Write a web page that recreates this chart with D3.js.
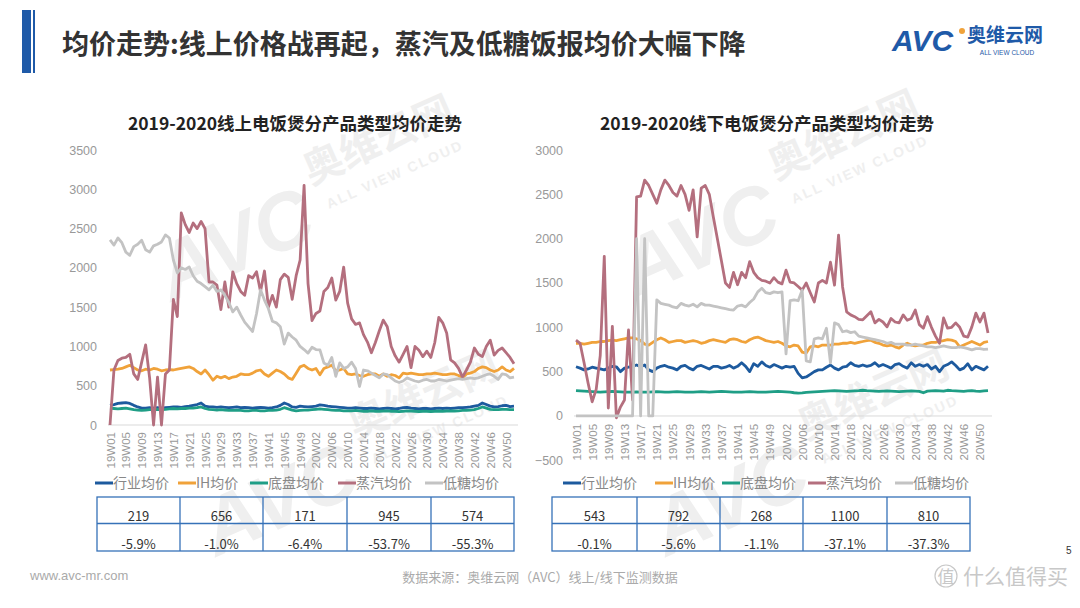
<!DOCTYPE html>
<html>
<head>
<meta charset="utf-8">
<script src="https://cdnjs.cloudflare.com/ajax/libs/d3/7.8.5/d3.min.js"></script>
<style>
  body { margin: 0; background: #fff; }
  svg { display: block; font-family: 'Noto Sans CJK SC', 'Noto Sans', sans-serif; }
</style>
</head>
<body>
<script>
// week labels 19W01..19W51, 20W01..20W52
var weeks = [];
for (var a = 1; a <= 51; a++) weeks.push('19W' + (a < 10 ? '0' : '') + a);
for (var b = 1; b <= 52; b++) weeks.push('20W' + (b < 10 ? '0' : '') + b);

var seriesNames = ['行业均价', 'IH均价', '底盘均价', '蒸汽均价', '低糖均价'];
var seriesColors = ['#1d5a9e', '#f0a23a', '#1f9e86', '#b46f7e', '#c3c3c3'];

// online (线上)
var onIndustry = [250,260,275,280,285,275,250,230,215,215,
  220,215,220,215,220,225,230,230,225,235,
  240,250,260,280,240,230,230,225,230,225,
  220,225,230,220,225,220,215,220,225,220,
  215,220,230,250,280,260,230,225,240,235,
  230,235,240,255,250,240,235,230,225,220,
  215,215,220,215,210,210,215,210,205,210,
  215,210,205,210,220,225,215,210,205,210,
  210,205,210,215,210,215,210,215,220,220,
  225,230,240,250,280,260,240,230,235,245,
  250,235,240];
var onIH = [700,705,710,720,740,760,730,700,690,710,
  700,720,710,690,700,705,700,710,720,730,
  740,720,680,650,700,640,570,620,600,620,
  590,610,620,650,640,640,660,690,700,650,
  620,660,700,680,650,600,580,660,740,760,
  720,700,720,640,720,740,760,690,700,720,
  650,640,650,630,620,640,650,650,620,650,
  620,640,630,600,660,650,660,650,640,640,
  650,650,660,650,640,640,650,650,630,600,
  650,660,680,720,740,730,700,680,700,740,
  700,680,720];
var onFloor = [215,210,205,210,215,205,195,190,185,190,
  195,195,200,195,200,205,210,205,210,210,
  215,215,220,230,210,200,195,190,195,190,
  185,185,190,185,180,180,185,185,180,180,
  185,185,190,200,220,205,190,180,185,190,
  190,195,200,205,200,195,190,185,185,180,
  180,180,185,180,175,175,180,175,175,178,
  180,175,175,170,175,180,178,175,172,175,
  175,172,175,178,175,178,180,178,180,185,
  185,190,195,210,230,215,200,195,195,200,
  198,195,195];
var onSteam = [0,700,820,850,860,900,650,580,800,1020,
  600,0,610,0,650,700,1600,1380,2700,2550,
  2450,2570,2500,2590,2500,1820,1820,1780,1470,1820,
  1500,1950,1800,1700,1650,1900,1870,1950,1700,1960,
  1500,1650,1500,1850,1920,1880,1600,1900,2100,3050,
  1800,1330,1420,1450,1700,1750,1870,1590,1700,2010,
  1550,1350,1280,1300,1150,1055,920,1050,1200,1335,
  1250,1000,880,800,900,1000,730,1000,950,870,
  940,860,1050,1370,1300,1170,830,790,720,610,
  700,800,980,900,870,1000,1080,890,950,980,
  920,860,780];
var onLowSugar = [2355,2290,2380,2320,2200,2160,2270,2300,2350,2230,
  2200,2280,2300,2330,2420,2380,2100,1935,2000,1980,
  2010,1900,1830,1800,1760,1720,1780,1700,1720,1650,
  1560,1440,1500,1400,1310,1250,1190,1420,1720,1590,
  1480,1320,1300,1250,1030,1170,1120,1080,1000,960,
  915,990,960,955,790,760,860,620,790,720,
  740,800,720,490,700,690,660,630,600,650,
  640,600,560,540,560,600,580,560,550,570,
  580,560,560,580,570,560,570,580,590,580,
  590,600,590,600,620,640,650,620,580,650,
  640,600,610];

// offline (线下)
var offIndustry = [555,540,520,530,550,540,530,520,540,560,
  555,500,540,550,560,575,555,575,520,500,
  540,560,570,550,540,520,560,570,540,520,
  560,570,550,530,560,560,540,550,570,540,
  560,600,560,500,590,560,610,570,550,580,
  560,540,560,550,560,480,430,440,470,500,
  520,520,550,575,540,520,550,560,600,570,
  560,575,560,570,600,560,580,560,540,580,
  590,560,540,600,560,580,560,580,530,560,
  500,560,580,610,570,520,540,590,520,560,
  540,520,560];
var offIH = [820,820,810,820,830,830,840,840,850,855,
  850,860,870,880,880,870,850,810,800,830,
  860,880,860,830,840,850,850,830,840,850,
  840,820,830,850,860,850,840,830,860,870,
  860,840,830,860,880,890,870,850,840,830,
  840,820,790,780,800,790,720,710,780,790,
  780,800,800,800,810,810,820,820,830,820,
  830,840,850,855,830,820,800,790,800,780,
  765,800,820,800,790,800,800,820,830,830,
  840,850,860,855,840,780,800,820,840,820,
  800,830,840];
var offFloor = [285,282,280,278,275,272,270,272,275,278,
  275,272,270,268,270,272,270,268,270,272,
  275,272,270,268,272,275,272,270,268,270,
  272,275,272,270,272,275,278,275,272,270,
  268,270,272,275,272,270,268,270,272,275,
  278,275,272,268,262,258,260,265,270,272,
  275,278,280,282,285,282,280,278,280,282,
  285,290,285,282,280,278,280,282,280,278,
  275,278,280,282,280,278,262,280,282,285,
  282,280,290,285,282,280,278,282,285,280,
  278,282,285];
var offSteam = [855,820,600,370,160,300,680,1800,90,1010,
  -20,100,180,970,180,2470,2480,2660,2600,2500,
  2400,2550,2660,2600,2520,2480,2600,2500,2320,2550,
  2020,2570,2600,2500,2245,2000,1750,1500,1450,1620,
  1480,1620,1560,1740,1620,1560,1530,1520,1500,1560,
  1510,1490,1645,1510,1500,1460,1420,1500,1390,1285,
  1500,1530,1500,1735,1475,2040,1455,1175,1140,1120,
  1090,1085,1130,1175,1050,1090,1060,1005,1100,1060,
  1050,1140,1080,1100,1195,1030,990,1120,1000,900,
  820,1105,990,1000,1050,1000,900,890,1005,1160,
  1060,1160,935];
var offLowSugar = [0,0,0,0,0,0,0,0,0,0,
  0,0,0,0,0,2000,0,2000,0,0,
  1310,1270,1260,1250,1230,1220,1270,1250,1240,1260,
  1230,1270,1250,1250,1240,1230,1220,1210,1200,1195,
  1240,1250,1230,1280,1320,1400,1440,1390,1380,1400,
  1390,1400,700,1300,1310,1300,1420,620,610,870,
  880,870,990,600,1050,1030,950,960,940,950,
  900,890,880,870,860,850,840,820,830,810,
  810,810,800,800,810,800,790,780,780,770,
  780,790,780,770,770,780,770,760,745,760,
  760,750,755];

// tick labels + table values
var onYTicks = [0, 500, 1000, 1500, 2000, 2500, 3000, 3500];
var offYTicks = [-500, 0, 500, 1000, 1500, 2000, 2500, 3000];
var onLatest = ['219', '656', '171', '945', '574'];
var onChange = ['-5.9%', '-1.0%', '-6.4%', '-53.7%', '-55.3%'];
var offLatest = ['543', '792', '268', '1100', '810'];
var offChange = ['-0.1%', '-5.6%', '-1.1%', '-37.1%', '-37.3%'];

var W = 1080, H = 608;
var svg = d3.select('body').append('svg').attr('width', W).attr('height', H);

// watermark tiles
function watermark(cx, cy) {
  var g = svg.append('g')
    .attr('transform', 'translate(' + cx + ',' + cy + ') rotate(-24)')
    .style('fill', '#efefef');
  g.append('text').text('AVC')
    .attr('x', -150).attr('y', 45)
    .style('font-family', 'Liberation Sans')
    .style('font-weight', 'bold').style('font-style', 'italic')
    .style('font-size', '80px');
  g.append('text').text('奥维云网')
    .attr('x', 25).attr('y', -5)
    .style('font-weight', 'bold').style('font-size', '40px');
  g.append('text').text('ALL VIEW CLOUD')
    .attr('x', 32).attr('y', 24)
    .style('font-family', 'Liberation Sans')
    .style('font-weight', 'bold').style('font-size', '14px')
    .style('letter-spacing', '2px');
}
watermark(290, 200);
watermark(755, 195);
watermark(335, 455);
watermark(785, 455);

// header
svg.append('rect').attr('x', 22).attr('y', 10).attr('width', 9).attr('height', 63).attr('fill', '#1f5aa8');
svg.append('rect').attr('x', 33).attr('y', 10).attr('width', 2).attr('height', 63).attr('fill', '#1f5aa8');
svg.append('text').text('均价走势:线上价格战再起，蒸汽及低糖饭报均价大幅下降')
  .attr('x', 62).attr('y', 54)
  .style('font-size', '27px').style('font-weight', 'bold').style('fill', '#333');

// logo
var logo = svg.append('g');
logo.append('text').text('AVC').attr('x', 892).attr('y', 51)
  .style('font-family', 'Liberation Sans').style('font-weight', 'bold')
  .style('font-style', 'italic').style('font-size', '30px').style('fill', '#1f5aa8');
logo.append('circle').attr('cx', 962).attr('cy', 31).attr('r', 3).attr('fill', '#f0a23a');
logo.append('text').text('奥维云网').attr('x', 967).attr('y', 42)
  .style('font-weight', 'bold').style('font-size', '19px').style('fill', '#1f5aa8');
logo.append('text').text('ALL VIEW CLOUD').attr('x', 1007).attr('y', 55)
  .style('font-family', 'Liberation Sans').style('font-size', '6.5px')
  .style('text-anchor', 'middle').style('fill', '#1f5aa8');

function drawChart(cfg) {
  var x = d3.scalePoint().domain(weeks).range([cfg.x0, cfg.x1]);
  var y = d3.scaleLinear().domain(cfg.yDomain).range([cfg.yBottom, cfg.yTop]);
  var g = svg.append('g');

  g.append('text').text(cfg.title)
    .attr('x', cfg.titleX).attr('y', 130)
    .style('font-size', '17.5px').style('font-weight', 'bold')
    .style('text-anchor', 'middle').style('fill', '#222');

  // y axis
  var ya = g.append('g')
    .attr('transform', 'translate(' + cfg.x0 + ',0)')
    .call(d3.axisLeft(y).tickValues(cfg.yTicks).tickSize(0).tickPadding(13).tickFormat(d3.format('d')));
  ya.select('.domain').remove();
  ya.selectAll('text')
    .style('font-family', 'Liberation Sans').style('font-size', '12.5px').style('fill', '#999');

  // zero line
  g.append('line')
    .attr('x1', cfg.x0 - 2).attr('x2', cfg.x1 + 4)
    .attr('y1', y(0)).attr('y2', y(0))
    .attr('stroke', '#d9d9d9').attr('stroke-width', 1);

  // x axis
  var xa = g.append('g')
    .attr('transform', 'translate(0,' + y(0) + ')')
    .call(d3.axisBottom(x).tickValues(weeks.filter(function(d, i) { return i % 4 === 0; })).tickSize(0));
  xa.select('.domain').remove();
  xa.selectAll('text')
    .attr('transform', 'rotate(-90)')
    .attr('x', -cfg.labelGap).attr('y', 0).attr('dy', '0.35em')
    .style('text-anchor', 'end')
    .style('font-family', 'Liberation Sans').style('font-size', '11.5px').style('fill', '#999');

  var line = d3.line()
    .x(function(d, i) { return x(weeks[i]); })
    .y(function(d) { return y(d); });

  cfg.series.forEach(function(s, k) {
    g.append('path')
      .datum(s)
      .attr('d', line)
      .attr('fill', 'none')
      .attr('stroke', seriesColors[k])
      .attr('stroke-width', 2.8)
      .attr('stroke-linejoin', 'round');
  });

  // legend
  var lg = g.append('g');
  seriesNames.forEach(function(n, k) {
    var lx = cfg.legendX[k];
    lg.append('line')
      .attr('x1', lx).attr('x2', lx + 18)
      .attr('y1', 483).attr('y2', 483)
      .attr('stroke', seriesColors[k]).attr('stroke-width', 3);
    lg.append('text').text(n)
      .attr('x', lx + 18).attr('y', 488)
      .style('font-size', '14px').style('fill', '#888');
  });

  // table
  var cols = cfg.tableCols;
  var tb = g.append('g');
  tb.append('rect')
    .attr('x', cols[0]).attr('y', 497)
    .attr('width', cols[cols.length - 1] - cols[0]).attr('height', 54)
    .attr('fill', 'none').attr('stroke', '#3672b8').attr('stroke-width', 1.3);
  tb.append('line')
    .attr('x1', cols[0]).attr('x2', cols[cols.length - 1])
    .attr('y1', 523.5).attr('y2', 523.5)
    .attr('stroke', '#3672b8').attr('stroke-width', 1.3);
  cols.slice(1, -1).forEach(function(cx) {
    tb.append('line')
      .attr('x1', cx).attr('x2', cx).attr('y1', 497).attr('y2', 551)
      .attr('stroke', '#3672b8').attr('stroke-width', 1.3);
  });
  [cfg.latest, cfg.change].forEach(function(row, r) {
    row.forEach(function(v, c) {
      tb.append('text').text(v)
        .attr('x', (cols[c] + cols[c + 1]) / 2)
        .attr('y', r === 0 ? 521 : 549)
        .style('text-anchor', 'middle')
        .style('font-size', '13px').style('fill', '#333');
    });
  });
}

drawChart({
  title: '2019-2020线上电饭煲分产品类型均价走势',
  titleX: 295,
  x0: 110, x1: 514,
  yDomain: [0, 3500], yTop: 150, yBottom: 425,
  yTicks: onYTicks,
  labelGap: 7,
  series: [onIndustry, onIH, onFloor, onSteam, onLowSugar],
  legendX: [95, 178, 250, 338, 425],
  tableCols: [97, 180, 263, 347, 431, 514],
  latest: onLatest, change: onChange
});

drawChart({
  title: '2019-2020线下电饭煲分产品类型均价走势',
  titleX: 767,
  x0: 576, x1: 988,
  yDomain: [-500, 3000], yTop: 150, yBottom: 460.3,
  yTicks: offYTicks,
  labelGap: 8,
  series: [offIndustry, offIH, offFloor, offSteam, offLowSugar],
  legendX: [563, 655, 722, 808, 895],
  tableCols: [552, 637, 720, 803, 887, 970],
  latest: offLatest, change: offChange
});

// footer
svg.append('text').text('www.avc-mr.com').attr('x', 30).attr('y', 580)
  .style('font-family', 'Liberation Sans').style('font-size', '13px').style('fill', '#aaa');
svg.append('text').text('数据来源：奥维云网（AVC）线上/线下监测数据').attr('x', 540).attr('y', 582)
  .style('font-size', '13px').style('fill', '#aaa').style('text-anchor', 'middle');
svg.append('circle').attr('cx', 946).attr('cy', 576).attr('r', 11)
  .attr('fill', 'none').attr('stroke', '#c8c8c8').attr('stroke-width', 1.2);
svg.append('text').text('值').attr('x', 946).attr('y', 583)
  .style('font-size', '17px').style('fill', '#c8c8c8').style('text-anchor', 'middle');
svg.append('text').text('什么值得买').attr('x', 963).attr('y', 584)
  .style('font-size', '21px').style('fill', '#c8c8c8');
svg.append('text').text('5').attr('x', 1066).attr('y', 554)
  .style('font-family', 'Liberation Sans').style('font-size', '10px').style('fill', '#333');
</script>
</body>
</html>
